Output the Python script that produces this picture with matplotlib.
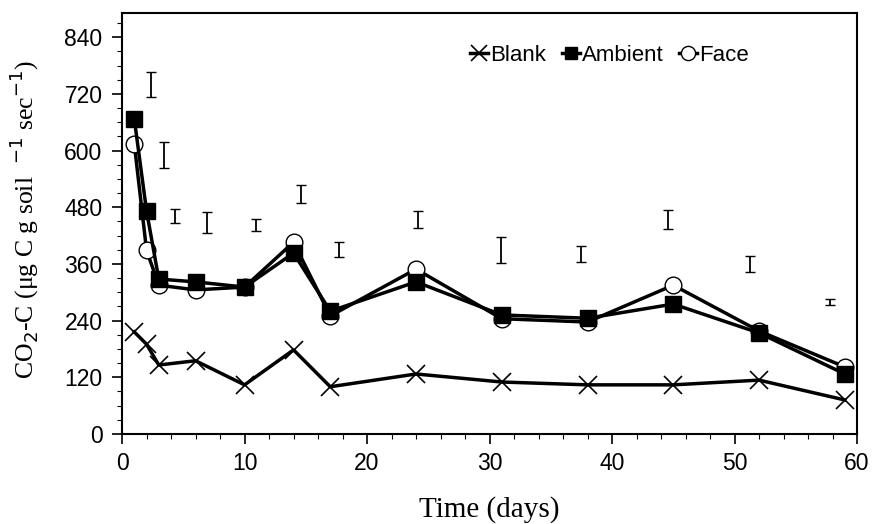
import matplotlib
matplotlib.use("Agg")
import matplotlib.pyplot as plt
from matplotlib.ticker import MultipleLocator

days = [1, 2, 3, 6, 10, 14, 17, 24, 31, 38, 45, 52, 59]
blank = [216, 190, 146, 155, 104, 178, 100, 127, 110, 104, 104, 114, 72]
ambient = [667, 472, 328, 322, 311, 383, 260, 322, 252, 245, 275, 214, 127]
face = [614, 389, 315, 305, 311, 406, 250, 349, 244, 237, 315, 218, 142]

err_x = [2.4, 3.4, 4.3, 6.9, 10.9, 14.6, 17.7, 24.2, 30.9, 37.5, 44.6, 51.3, 57.8]
err_lo = [713, 563, 447, 425, 430, 489, 375, 436, 362, 364, 434, 343, 273]
err_hi = [766, 618, 476, 470, 455, 527, 406, 472, 417, 398, 474, 377, 286]

xticks = [0, 10, 20, 30, 40, 50, 60]
yticks = [0, 120, 240, 360, 480, 600, 720, 840]

fig = plt.figure(figsize=(8.73, 5.24), dpi=100)
ax = fig.add_axes([0.1398, 0.1718, 0.9817 - 0.1398, 0.975 - 0.1718])

ax.plot(days, blank, color="black", lw=2.5, marker="x", ms=13, mew=1.2,
        label="Blank")
ax.plot(days, face, color="black", lw=2.5, marker="o", ms=12, mew=1.0,
        mfc="white", label="Face", zorder=3)
ax.plot(days, ambient, color="black", lw=2.5, marker="s", ms=11,
        mfc="black", label="Ambient", zorder=4)

centers = [(a + b) / 2 for a, b in zip(err_lo, err_hi)]
halves = [(b - a) / 2 for a, b in zip(err_lo, err_hi)]
ax.errorbar(err_x, centers, yerr=halves, fmt="none", ecolor="black",
            elinewidth=1.3, capsize=3.5, capthick=1.0)

ax.set_xlim(0, 60)
ax.set_ylim(0, 891)
ax.set_xticks(xticks)
ax.set_yticks(yticks)
ax.xaxis.set_minor_locator(MultipleLocator(2))
ax.yaxis.set_minor_locator(MultipleLocator(30))
ax.tick_params(which="major", direction="out", length=7, width=1.2,
               labelsize=16.5)
ax.tick_params(axis="x", which="major", pad=6)
ax.tick_params(axis="y", which="major", pad=7)
ax.tick_params(which="minor", direction="out", length=3.5, width=0.8)
for lbl in ax.get_xticklabels() + ax.get_yticklabels():
    lbl.set_fontfamily("Liberation Sans")
for s in ax.spines.values():
    s.set_linewidth(1.5)

ax.set_xlabel("Time (days)", family="Liberation Serif", fontsize=21)
ax.xaxis.set_label_coords(0.5, -0.148)
ax.set_ylabel("CO$_2$-C (\u03bcg C g soil  $^{-1}$ sec$^{-1}$)",
              family="Liberation Serif", fontsize=18.5)
ax.yaxis.set_label_coords(-0.11, 0.51)

handles, labels = ax.get_legend_handles_labels()
order = [0, 2, 1]
leg = ax.legend([handles[i] for i in order], [labels[i] for i in order],
                loc="center right", bbox_to_anchor=(0.88, 0.9), ncol=3,
                frameon=False, handlelength=0.8, handletextpad=0.1,
                columnspacing=0.7, markerscale=0.85,
                prop={"family": "Liberation Sans", "size": 16})

fig.savefig("out.png", dpi=100)
